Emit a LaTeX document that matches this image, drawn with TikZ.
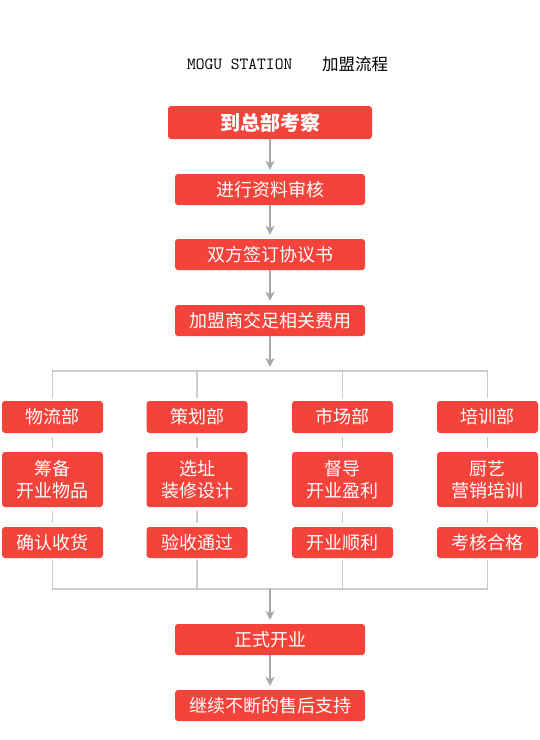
\documentclass[tikz,border=0pt]{standalone}
\usepackage{fontspec}
\setmainfont{Noto Sans CJK SC}
\usetikzlibrary{arrows.meta}
\definecolor{boxred}{HTML}{F4433A}
\definecolor{treegray}{HTML}{CCCCCC}
\definecolor{arrowgray}{HTML}{A8A8A8}
\tikzset{
  redbox/.style={rectangle, rounded corners=3pt, fill=boxred, text=white,
    inner sep=0pt, align=center, font=\fontsize{18}{22}\selectfont},
  mainbox/.style={redbox, minimum width=190pt, minimum height=31pt},
  deptbox/.style={redbox, minimum width=101pt},
  flowarrow/.style={draw=arrowgray, line width=1.8pt, -{Stealth[length=9pt,width=9pt,inset=2.5pt]}, shorten >=4pt},
  treeline/.style={draw=treegray, line width=1.4pt},
}
\begin{document}
\begin{tikzpicture}[x=1pt,y=-1pt]
\useasboundingbox (0,0) rectangle (540,740);
% title
\node[anchor=west, inner sep=0pt, font=\ttfamily\fontsize{17}{18}\selectfont] (t1) at (187,64) {MOGU STATION};
\node[anchor=west, inner sep=0pt, font=\fontsize{16.5}{18}\selectfont] (t2) at (322,64) {加盟流程};
% main boxes
\node[redbox, minimum width=204pt, minimum height=33pt, font=\bfseries\fontsize{20}{22}\selectfont] (b1) at (270,122.5) {到总部考察};
\node[mainbox] (b2) at (270,189.5) {进行资料审核};
\node[mainbox] (b3) at (270,254.5) {双方签订协议书};
\node[mainbox] (b4) at (270,320.5) {加盟商交足相关费用};
\node[mainbox] (b5) at (270,639.5) {正式开业};
\node[mainbox] (b6) at (270,705.5) {继续不断的售后支持};
\draw[flowarrow] (b1) -- (b2);
\draw[flowarrow] (b2) -- (b3);
\draw[flowarrow] (b3) -- (b4);
\draw[flowarrow] (b5) -- (b6);
% junction coordinates
\coordinate (Atop) at (52.5,371);
\coordinate (Btop) at (197,371);
\coordinate (Ctop) at (342.5,371);
\coordinate (Dtop) at (487.5,371);
\coordinate (Abot) at (52.5,589);
\coordinate (Bbot) at (197,589);
\coordinate (Cbot) at (342.5,589);
\coordinate (Dbot) at (487.5,589);
\coordinate (split) at (270,371);
\coordinate (join) at (270,589);
% departments
\node[deptbox, minimum height=32pt] (A1) at (52.5,417) {物流部};
\node[deptbox, minimum height=55pt] (A2) at (52.5,479.5) {筹备\\开业物品};
\node[deptbox, minimum height=31pt] (A3) at (52.5,542.5) {确认收货};
\node[deptbox, minimum height=32pt] (B1) at (197,417) {策划部};
\node[deptbox, minimum height=55pt] (B2) at (197,479.5) {选址\\装修设计};
\node[deptbox, minimum height=31pt] (B3) at (197,542.5) {验收通过};
\node[deptbox, minimum height=32pt] (C1) at (342.5,417) {市场部};
\node[deptbox, minimum height=55pt] (C2) at (342.5,479.5) {督导\\开业盈利};
\node[deptbox, minimum height=31pt] (C3) at (342.5,542.5) {开业顺利};
\node[deptbox, minimum height=32pt] (D1) at (487.5,417) {培训部};
\node[deptbox, minimum height=55pt] (D2) at (487.5,479.5) {厨艺\\营销培训};
\node[deptbox, minimum height=31pt] (D3) at (487.5,542.5) {考核合格};
\foreach \n in {A,B,C,D}{
  \draw[treeline] (\n top) -- ([yshift=3pt]\n1.north);
  \draw[treeline] ([yshift=-4pt]\n1.south) -- ([yshift=4pt]\n2.north);
  \draw[treeline] ([yshift=-4pt]\n2.south) -- ([yshift=4pt]\n3.north);
  \draw[treeline] ([yshift=-2pt]\n3.south) -- (\n bot);
}
\draw[treeline] ([xshift=-0.7pt]Atop) -- ([xshift=0.7pt]Dtop);
\draw[treeline] ([xshift=-0.7pt]Abot) -- ([xshift=0.7pt]Dbot);
\draw[flowarrow] (b4) -- (split);
\draw[flowarrow] (join) -- (b5);
\end{tikzpicture}
\end{document}
